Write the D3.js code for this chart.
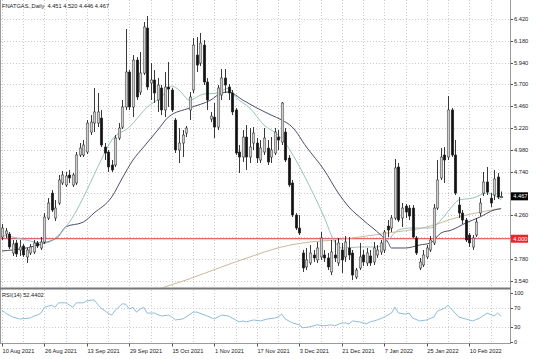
<!DOCTYPE html>
<html><head><meta charset="utf-8">
<script src="https://cdn.jsdelivr.net/npm/d3@7"></script>
<style>body{margin:0;background:#fff}svg{display:block;font-family:"Liberation Sans",Arial,sans-serif}</style>
</head><body><svg id="c" width="536" height="359"></svg>
<script>
// ---- data ----
const symbolTitle = "FNATGAS.,Daily";
const lastQuote = [4.451, 4.520, 4.446, 4.467];
const levelPrice = 4.000;
const rsiLabel = "RSI(14) 52.4402";
const dateLabels = ["10 Aug 2021","26 Aug 2021","13 Sep 2021","29 Sep 2021","15 Oct 2021","1 Nov 2021","17 Nov 2021","3 Dec 2021","21 Dec 2021","7 Jan 2022","25 Jan 2022","10 Feb 2022"];
const dateBars = [0,12,24,36,48,60,72,84,96,108,120,132];
const priceTicks = [3.54,3.78,4.02,4.26,4.50,4.74,4.98,5.22,5.46,5.70,5.94,6.18,6.42];
const rsiTicks = [0,30,70,100];
const rsiLevels = [30,70];

const opens = [4.019,4.052,4.052,3.843,3.953,3.876,3.92,3.799,3.843,3.854,3.953,3.898,3.964,4.228,4.503,4.228,4.393,4.614,4.592,4.702,
4.592,4.614,4.922,4.922,4.955,5.175,5.274,5.274,5.329,5.01,4.955,4.812,4.812,5.109,5.23,5.451,5.836,5.451,5.968,5.616,
5.825,6.321,5.715,5.748,5.528,5.66,5.418,5.671,5.638,5.307,4.977,5.054,5.164,5.418,5.638,6.023,5.935,6.133,5.726,5.318,
5.34,5.23,5.583,5.77,5.671,5.605,5.418,4.955,4.9,5.12,4.9,5.054,5.054,4.867,4.955,4.999,4.9,4.944,5.12,5.065,
5.175,4.889,4.614,4.261,4.118,3.843,3.689,3.733,3.821,3.766,3.799,3.821,3.788,3.634,3.821,3.733,3.876,3.799,3.898,3.843,
3.578,3.678,3.821,3.733,3.81,3.744,3.821,3.854,3.876,4.14,4.118,4.228,4.79,4.228,4.36,4.338,4.338,4.008,3.678,3.711,
3.799,3.876,3.953,4.338,4.669,4.922,4.9,5.418,4.922,4.371,4.283,4.206,4.041,3.909,4.041,4.283,4.503,4.625,4.448,4.481,
4.68,4.451];
const highs = [4.162,4.118,4.074,3.986,3.986,3.986,3.942,3.898,3.942,3.986,3.975,4.019,4.283,4.448,4.536,4.426,4.702,4.746,4.735,4.757,
4.724,4.955,5.054,5.087,5.307,5.362,5.66,5.605,5.418,5.054,4.977,4.867,5.142,5.274,5.528,6.31,5.858,6.023,6.001,6.056,
6.387,6.453,5.935,5.858,5.77,5.693,5.836,5.946,5.66,5.329,5.219,5.197,5.241,5.616,6.21,6.221,6.266,6.188,5.77,5.396,
5.495,5.693,5.869,5.869,5.704,5.638,5.44,5.032,5.197,5.252,5.219,5.23,5.109,5.087,5.219,5.087,5.12,5.219,5.197,5.506,
5.219,4.922,4.647,4.283,4.261,3.876,3.898,3.931,3.876,3.964,4.074,3.876,3.843,3.986,3.986,4.008,3.953,4.03,4.019,3.876,
3.678,3.953,3.876,3.898,3.876,3.964,3.931,3.986,4.096,4.206,4.261,4.878,4.834,4.393,4.382,4.371,4.371,4.03,3.788,3.876,
3.931,4.03,4.382,4.867,4.999,5.01,5.572,5.44,5.087,4.459,4.316,4.228,4.063,4.041,4.228,4.448,4.735,4.79,4.503,4.757,
4.724,4.520];
const lows = [3.986,4.008,3.887,3.81,3.799,3.81,3.799,3.733,3.821,3.832,3.898,3.876,3.942,4.206,4.294,4.195,4.371,4.592,4.57,4.614,
4.57,4.592,4.9,4.9,4.933,5.142,5.175,5.23,5.01,4.867,4.735,4.735,4.79,5.087,5.208,5.418,5.418,5.34,5.528,5.583,
5.803,5.638,5.528,5.495,5.396,5.362,5.34,5.451,5.396,4.944,4.834,4.9,5.12,5.307,5.605,5.836,5.902,5.693,5.418,5.285,
5.109,5.197,5.528,5.605,5.528,5.362,4.922,4.724,4.845,4.757,4.834,4.977,4.834,4.834,4.922,4.812,4.834,4.922,4.977,5.032,
4.845,4.57,4.239,4.096,4.041,3.634,3.655,3.711,3.744,3.733,3.766,3.744,3.655,3.6,3.744,3.7,3.623,3.744,3.766,3.545,
3.556,3.655,3.7,3.7,3.7,3.711,3.788,3.821,3.843,4.019,4.074,4.206,4.184,4.129,4.228,4.206,4.008,3.821,3.655,3.689,
3.777,3.854,3.931,4.316,4.647,4.614,4.867,4.9,4.481,4.228,4.162,3.964,3.909,3.876,4.019,4.25,4.47,4.481,4.349,4.426,
4.437,4.446];
const closes = [4.118,4.085,3.909,3.942,3.832,3.909,3.821,3.876,3.909,3.953,3.92,3.964,4.239,4.393,4.316,4.338,4.647,4.702,4.691,4.669,
4.702,4.922,4.999,5.032,5.274,5.285,5.396,5.396,5.032,4.944,4.79,4.757,5.109,5.219,5.451,5.836,5.451,5.968,5.561,5.825,
6.332,5.671,5.748,5.605,5.693,5.418,5.671,5.649,5.418,4.977,5.054,5.142,5.219,5.561,6.133,5.913,6.155,5.726,5.528,5.351,
5.23,5.66,5.77,5.693,5.605,5.396,4.944,4.9,5.12,4.9,5.01,5.164,4.889,4.999,5.109,4.845,4.977,5.175,5.087,5.495,
4.867,4.592,4.261,4.118,4.063,3.678,3.766,3.843,3.788,3.898,4.008,3.788,3.689,3.854,3.788,3.953,3.766,3.964,3.821,3.6,
3.655,3.799,3.744,3.843,3.733,3.898,3.876,3.953,4.074,4.096,4.228,4.779,4.206,4.338,4.294,4.25,4.019,3.843,3.744,3.821,
3.898,3.986,4.338,4.647,4.9,4.867,5.418,4.922,4.503,4.283,4.206,3.986,3.953,4.008,4.184,4.393,4.625,4.514,4.393,4.658,
4.459,4.467];

// moving averages read at sample bars
const maFastBars = [0,4,12,16,20,24,28,31,36,41,45,48,50,53,57,61,64,66,70,74,78,80,83,87,91,94,96,101,106,109,112,115,121,124,127,129,133,137,141];
const maFastVals = [4.04,4.01,3.953,4.04,4.24,4.537,4.867,5.087,5.23,5.45,5.56,5.682,5.638,5.528,5.594,5.605,5.66,5.56,5.44,5.252,5.142,5.054,4.867,4.57,4.239,3.964,3.898,3.909,3.909,3.986,4.096,4.118,4.118,4.206,4.349,4.426,4.448,4.503,4.426];
const maSlowBars = [0,12,16,18,23,26,31,34,37,40,44,47,53,59,62,64,68,72,76,79,82,86,91,95,98,102,107,109,110,114,118,121,124,127,131,135,139,141];
const maSlowVals = [3.865,3.953,4.03,4.13,4.184,4.283,4.46,4.669,4.867,5.01,5.197,5.34,5.44,5.528,5.605,5.616,5.528,5.44,5.363,5.308,5.23,5.01,4.757,4.503,4.349,4.206,4.041,3.964,3.898,3.898,3.931,3.953,4.063,4.096,4.173,4.239,4.316,4.33];
const maLongBars = [40,45,52,62,70,79,87,94,101,109,120,129,141];
const maLongVals = [3.39,3.457,3.545,3.689,3.799,3.909,3.964,3.986,4.019,4.063,4.129,4.239,4.335];

const rsiBars = [0,1,3,5,8,9,10,11,12,14,15,16,18,20,21,23,24,26,28,30,31,32,34,35,36,37,38,39,40,41,43,45,47,48,49,51,52,54,55,58,60,62,64,65,67,68,69,71,73,75,77,78,79,80,82,84,85,87,89,91,93,94,96,97,98,99,101,103,104,106,108,110,111,112,114,115,116,118,120,122,123,125,126,128,129,131,133,135,137,139,140,141];
const rsiVals = [65,59,51,47,49,53,55,59,71,75,71,80,80,71,80,80,84,86,69,59,55,65,78,77,67,71,61,67,71,59,59,53,55,51,45,47,51,61,61,53,47,55,53,49,41,43,41,45,43,47,49,51,57,47,39,35,29,31,35,33,35,33,39,39,37,43,41,37,41,45,51,59,71,59,57,59,49,43,45,51,63,69,75,59,51,47,43,49,59,53,59,52.44];

// ---- layout ----
const svg = d3.select("#c");
const axisX = 510.5, mainTop = 0, mainBot = 287.5, rsiTop = 290, rsiBot = 343.5;
const nBars = closes.length;
const x = d3.scaleLinear().domain([0, nBars - 1]).range([2, 2 + 3.54 * (nBars - 1)]);
const y = d3.scaleLinear().domain([3.54, 6.42]).range([280.5, 19]);
const yr = d3.scaleLinear().domain([0, 100]).range([342, 293]);

svg.append("rect").attr("width",536).attr("height",359).attr("fill","#fff");

const defs = svg.append("defs");
defs.append("clipPath").attr("id","mainClip").append("rect")
  .attr("x",1).attr("y",mainTop).attr("width",axisX-1).attr("height",mainBot-mainTop);
defs.append("clipPath").attr("id","rsiClip").append("rect")
  .attr("x",1).attr("y",rsiTop).attr("width",axisX-1).attr("height",rsiBot-rsiTop);

const gridColor = "#cccccc";
const vg = d3.range(0, nBars, 6);
svg.append("g").selectAll("line").data(vg).join("line")
  .attr("x1",d=>Math.round(x(d))+0.5).attr("x2",d=>Math.round(x(d))+0.5)
  .attr("y1",mainTop).attr("y2",mainBot)
  .attr("stroke",gridColor).attr("stroke-width",1).attr("stroke-dasharray","1,2");
svg.append("g").selectAll("line").data(vg).join("line")
  .attr("x1",d=>Math.round(x(d))+0.5).attr("x2",d=>Math.round(x(d))+0.5)
  .attr("y1",rsiTop).attr("y2",rsiBot)
  .attr("stroke",gridColor).attr("stroke-width",1).attr("stroke-dasharray","1,2");
svg.append("g").selectAll("line").data(priceTicks).join("line")
  .attr("x1",1).attr("x2",axisX)
  .attr("y1",d=>Math.round(y(d))+0.5).attr("y2",d=>Math.round(y(d))+0.5)
  .attr("stroke",gridColor).attr("stroke-dasharray","1,2");
svg.append("g").selectAll("line").data(rsiLevels).join("line")
  .attr("x1",1).attr("x2",axisX)
  .attr("y1",d=>Math.round(yr(d))+0.5).attr("y2",d=>Math.round(yr(d))+0.5)
  .attr("stroke",gridColor).attr("stroke-dasharray","1,2");

svg.append("line").attr("x1",1).attr("x2",axisX)
  .attr("y1",y(levelPrice)).attr("y2",y(levelPrice))
  .attr("stroke","#e03c3c").attr("stroke-width",1);

const main = svg.append("g").attr("clip-path","url(#mainClip)");
function maLine(bars, vals, color, w){
  const pts = bars.map((b,i)=>[x(b), y(vals[i])]);
  main.append("path").attr("d", d3.line().curve(d3.curveMonotoneX)(pts))
    .attr("fill","none").attr("stroke",color).attr("stroke-width",w);
}
maLine(maLongBars, maLongVals, "#cbb999", 1);
maLine(maSlowBars, maSlowVals, "#4d4d6b", 1);
maLine(maFastBars, maFastVals, "#9cc2bb", 1);

const bars = d3.range(nBars);
const cg = main.append("g");
cg.selectAll("line").data(bars).join("line")
  .attr("x1",i=>Math.round(x(i))+0.5).attr("x2",i=>Math.round(x(i))+0.5)
  .attr("y1",i=>y(highs[i])).attr("y2",i=>y(lows[i]))
  .attr("stroke","#222").attr("stroke-width",0.9);
cg.selectAll("rect").data(bars).join("rect")
  .attr("x",i=>Math.round(x(i))-0.8).attr("width",2.6)
  .attr("y",i=>y(Math.max(opens[i],closes[i])))
  .attr("height",i=>Math.max(1, Math.abs(y(opens[i])-y(closes[i]))))
  .attr("fill",i=>closes[i]>=opens[i] ? "#cdcdcd" : "#111")
  .attr("stroke","#2a2a2a").attr("stroke-width",0.45);

const rsiPts = rsiBars.map((b,i)=>[x(b), yr(rsiVals[i])]);
svg.append("path").attr("clip-path","url(#rsiClip)")
  .attr("d", d3.line()(rsiPts)).attr("fill","none")
  .attr("stroke","#8fbcd9").attr("stroke-width",1);

svg.append("line").attr("x1",0.5).attr("x2",0.5).attr("y1",0).attr("y2",rsiBot).attr("stroke","#9a9a9a");
svg.append("line").attr("x1",axisX).attr("x2",axisX).attr("y1",0).attr("y2",rsiBot).attr("stroke","#9a9a9a");
svg.append("rect").attr("x",0).attr("y",287.5).attr("width",axisX).attr("height",2).attr("fill","#777");
svg.append("line").attr("x1",0).attr("x2",axisX+0.5).attr("y1",rsiBot).attr("y2",rsiBot).attr("stroke","#9a9a9a");

const fontSize = 5.7;
const boxes = [lastQuote[3], levelPrice];
const shownTicks = priceTicks.filter(t => boxes.every(b => Math.abs(y(t)-y(b)) > 7));
svg.append("g").selectAll("line").data(priceTicks).join("line")
  .attr("x1",axisX).attr("x2",axisX+2.5)
  .attr("y1",d=>Math.round(y(d))+0.5).attr("y2",d=>Math.round(y(d))+0.5).attr("stroke","#555");
svg.append("g").selectAll("text").data(shownTicks).join("text")
  .attr("x",514).attr("y",d=>y(d)+2).attr("font-size",fontSize).attr("fill","#222")
  .text(d=>d3.format(".3f")(d));
svg.append("g").selectAll("text").data(rsiTicks).join("text")
  .attr("x",514).attr("y",d=>yr(d)+2).attr("font-size",fontSize).attr("fill","#222")
  .text(d=>d);
svg.append("g").selectAll("line").data(rsiTicks).join("line")
  .attr("x1",axisX).attr("x2",axisX+2.5)
  .attr("y1",d=>Math.round(yr(d))+0.5).attr("y2",d=>Math.round(yr(d))+0.5).attr("stroke","#555");

function priceBox(p, bg){
  const yy = y(p);
  svg.append("rect").attr("x",axisX+0.5).attr("y",yy-4).attr("width",17).attr("height",8).attr("fill",bg);
  svg.append("text").attr("x",513.3).attr("y",yy+2).attr("font-size",fontSize).attr("fill","#fff")
    .text(d3.format(".3f")(p));
}
priceBox(lastQuote[3], "#000");
priceBox(levelPrice, "#e8262a");

svg.append("g").selectAll("line").data(dateBars).join("line")
  .attr("x1",d=>Math.round(x(d))+0.5).attr("x2",d=>Math.round(x(d))+0.5)
  .attr("y1",rsiBot).attr("y2",rsiBot+3).attr("stroke","#555");
svg.append("g").selectAll("text").data(dateBars).join("text")
  .attr("x",d=>x(d)+0.5).attr("y",353).attr("font-size",fontSize).attr("fill","#222")
  .text((d,i)=>dateLabels[i]);

svg.append("text").attr("x",2).attr("y",8.3).attr("font-size",fontSize).attr("fill","#222")
  .attr("xml:space","preserve").style("white-space","pre")
  .text(symbolTitle + "  " + lastQuote.map(d3.format(".3f")).join(" "));
svg.append("text").attr("x",2).attr("y",297.3).attr("font-size",fontSize).attr("fill","#222")
  .text(rsiLabel);
</script>
</body></html>
